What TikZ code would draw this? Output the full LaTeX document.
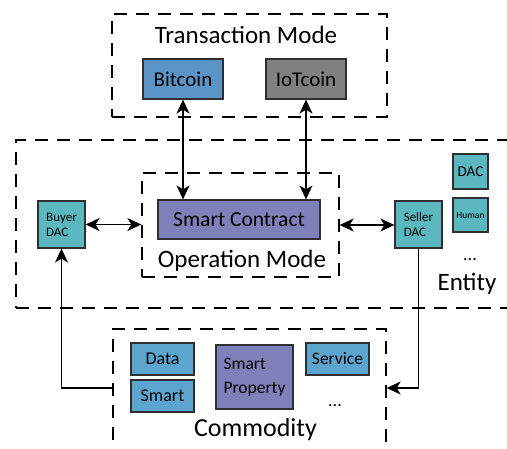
\documentclass[tikz,border=0pt]{standalone}
\usepackage{fontspec}
\setmainfont{Carlito}
\usetikzlibrary{arrows.meta}
\definecolor{cblue}{HTML}{5B95C8}
\definecolor{cgrey}{HTML}{808080}
\definecolor{cpurple}{HTML}{7F7FB9}
\definecolor{cteal}{HTML}{5BB7C0}
\definecolor{clblue}{HTML}{5BA5CF}
\definecolor{cedge}{HTML}{2F2F2F}
\newcommand{\fs}[2]{\fontsize{#1}{#2}\selectfont}
\begin{document}
\begin{tikzpicture}[x=1pt,y=-1pt,
  container/.style={draw, dash pattern=on 13pt off 9pt, line width=1.3pt, inner sep=0pt},
  boxnode/.style={draw=cedge, line width=1.2pt, inner sep=0pt, align=center},
  conn/.style={line width=1.5pt, -{Stealth[length=14pt,width=13pt,inset=4pt]}},
  bconn/.style={line width=1.5pt, {Stealth[length=14pt,width=13pt,inset=4pt]}-{Stealth[length=14pt,width=13pt,inset=4pt]}},
  lbl/.style={inner sep=0pt, anchor=base}]
\useasboundingbox (0,0) rectangle (507,448);
\clip (0,0) rectangle (507,448);
% containers
\node[container, minimum width=275pt, minimum height=103pt] (trans) at (249.5,65.5) {};
\node[container, minimum width=504pt, minimum height=168pt] (entity) at (268,224) {};
\node[container, minimum width=197pt, minimum height=104pt] (opmode) at (240.5,225) {};
\node[container, minimum width=273pt, minimum height=126pt] (commodity) at (249.5,392) {};
% labels
\node[lbl, font=\fs{25}{28}] (translbl) at (246,43) {Transaction Mode};
\node[lbl, font=\fs{25}{28}] (oplbl) at (242,267) {Operation Mode};
\node[lbl, font=\fs{25}{28}] (entlbl) at (467,290) {Entity};
\node[lbl, font=\fs{26}{28}] (comlbl) at (255.5,436) {Commodity};
\node[lbl, font=\fs{18}{20}] (edots) at (470,260) {...};
\node[lbl, font=\fs{18}{20}] (cdots) at (335,406) {...};
% boxes
\node[boxnode, fill=cblue, minimum width=80pt, minimum height=40pt, font=\fs{21}{24}] (bitcoin) at (183,79) {Bitcoin};
\node[boxnode, fill=cgrey, minimum width=80pt, minimum height=40pt, font=\fs{21}{24}] (iotcoin) at (306,79) {IoTcoin};
\node[boxnode, fill=cpurple, minimum width=162pt, minimum height=39pt, font=\fs{21.5}{24}] (sc) at (239,219.5) {Smart Contract};
\node[boxnode, fill=cteal, minimum width=47pt, minimum height=47pt, align=left, font=\fs{13}{15}] (buyer) at (61.5,224.5) {Buyer\\DAC};
\node[boxnode, fill=cteal, minimum width=47pt, minimum height=47pt, align=left, font=\fs{13}{15}] (seller) at (418.5,224.5) {Seller\\DAC};
\node[boxnode, fill=cteal, minimum width=35pt, minimum height=35pt, font=\fs{15}{16}] (dac) at (470.5,171.5) {DAC};
\node[boxnode, fill=cteal, minimum width=35pt, minimum height=34pt, font=\fs{9.5}{11}] (human) at (470.5,215) {Human};
\node[boxnode, fill=clblue, minimum width=63pt, minimum height=32pt, font=\fs{18}{20}] (data) at (162.5,359) {Data};
\node[boxnode, fill=clblue, minimum width=63pt, minimum height=32pt, font=\fs{18}{20}] (smart) at (162.5,396) {Smart};
\node[boxnode, fill=cpurple, minimum width=77pt, minimum height=64pt, align=left, font=\fs{17.5}{24}] (sprop) at (254.5,377) {Smart\\Property};
\node[boxnode, fill=clblue, minimum width=63pt, minimum height=32pt, font=\fs{17.5}{20}] (service) at (337.5,359) {Service};
% connectors
\draw[bconn] (bitcoin.south) -- (bitcoin.south |- sc.north);
\draw[bconn] (iotcoin.south) -- (iotcoin.south |- sc.north);
\draw[bconn] (buyer.east) -- (buyer.east -| opmode.west);
\draw[bconn] (opmode.east) -- (opmode.east -| seller.west);
\draw[conn] ([yshift=4pt]commodity.west) -| (buyer.south);
\draw[conn] (seller.south) |- ([yshift=4pt]commodity.east);
\end{tikzpicture}
\end{document}
